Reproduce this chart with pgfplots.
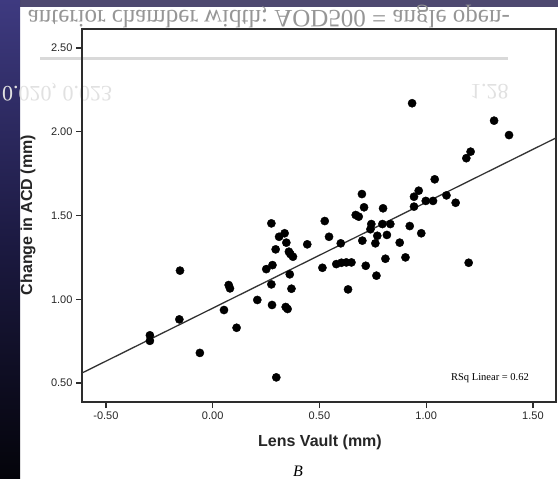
\documentclass[border=0pt]{standalone}
\usepackage{pgfplots}
\pgfplotsset{compat=1.18}
\usepackage{fontspec}
\setmainfont{Liberation Sans}
\newfontfamily\serifx{Liberation Serif}
\definecolor{stripTop}{RGB}{62,58,128}
\definecolor{stripMid}{RGB}{28,26,66}
\definecolor{stripBot}{RGB}{4,4,10}
\definecolor{band}{RGB}{48,42,88}
\definecolor{ghost}{RGB}{150,150,150}
\definecolor{ghostlight}{RGB}{225,225,225}
\definecolor{axisgray}{RGB}{45,45,45}

\pgfplotstableread{
x y
-0.294 0.785
-0.294 0.752
-0.156 0.880
-0.153 1.171
-0.060 0.680
0.053 0.936
0.075 1.085
0.081 1.065
0.112 0.830
0.209 0.996
0.251 1.180
0.275 1.089
0.275 1.453
0.278 0.966
0.280 1.204
0.295 1.298
0.298 0.534
0.311 1.373
0.337 1.394
0.342 0.954
0.345 1.338
0.351 0.942
0.357 1.284
0.361 1.149
0.364 1.270
0.369 1.063
0.376 1.254
0.443 1.328
0.514 1.188
0.525 1.467
0.545 1.373
0.579 1.210
0.600 1.334
0.603 1.218
0.626 1.220
0.634 1.059
0.650 1.220
0.670 1.503
0.684 1.493
0.699 1.628
0.701 1.350
0.709 1.549
0.717 1.200
0.739 1.418
0.743 1.449
0.762 1.334
0.767 1.141
0.771 1.379
0.795 1.449
0.798 1.543
0.809 1.242
0.816 1.384
0.832 1.449
0.876 1.338
0.903 1.250
0.923 1.437
0.934 2.170
0.943 1.553
0.943 1.612
0.965 1.648
0.977 1.394
0.998 1.587
1.032 1.587
1.040 1.716
1.095 1.620
1.138 1.576
1.188 1.842
1.199 1.218
1.208 1.881
1.318 2.066
1.388 1.980
}\pointsdata

\begin{document}
\begin{tikzpicture}[x=1pt,y=1pt]
\useasboundingbox (0,0) rectangle (558,-479);
% background
\fill[white] (0,0) rectangle (558,-479);
\shade[top color=stripTop, bottom color=stripBot, middle color=stripMid] (0,0) rectangle (20,-479);
\fill[band, opacity=0.85] (20,0) rectangle (558,-7);
\node[anchor=east, yscale=-1, text=ghost, font=\serifx\fontsize{25}{25}\selectfont, inner sep=0pt] at (510,-16) {anterior chamber width; AOD500 = angle open-};
\node[anchor=west, yscale=-1, text=ghostlight, font=\serifx\fontsize{22}{22}\selectfont, inner sep=0pt] at (2,-92) {0.020, 0.023};
\node[anchor=west, yscale=-1, text=ghostlight, font=\serifx\fontsize{22}{22}\selectfont, inner sep=0pt] at (470,-92) {1.28};
\draw[black!15, line width=3pt] (40,-58) -- (508,-58);

\begin{axis}[
  at={(82pt,-402pt)}, anchor=south west,
  scale only axis, width=474pt, height=373pt,
  xmin=-0.612, xmax=1.608, ymin=0.387, ymax=2.613,
  xtick={-0.5,0,0.5,1,1.5}, xticklabels={-0.50,0.00,0.50,1.00,1.50},
  ytick={0.5,1,1.5,2,2.5}, yticklabels={0.50,1.00,1.50,2.00,2.50},
  tick align=outside, tick pos=left, major tick length=6pt,
  every tick/.style={line width=1.2pt, color=axisgray},
  axis line style={line width=1.2pt, color=axisgray},
  tick label style={font=\fontsize{11}{12}\selectfont, text=black!85},
  clip=true,
]
\addplot[no marks, line width=1.3pt, color=black!80] coordinates {(-0.612,0.560) (1.608,1.963)};
\addplot[only marks, mark=*, mark size=4.1pt, mark options={fill=black, draw=black, line width=0.4pt}] table[x=x, y=y] {\pointsdata};
\end{axis}

\node[font=\bfseries\fontsize{16}{18}\selectfont, text=black!85] at (320,-442) {Lens Vault (mm)};
\node[rotate=90, font=\bfseries\fontsize{16}{18}\selectfont, text=black!85] at (28,-215) {Change in ACD (mm)};
\node[anchor=east, font=\serifx\fontsize{10.5}{12}\selectfont, inner sep=0pt] at (529,-378) {RSq Linear = 0.62};
\node[font=\serifx\itshape\fontsize{16}{16}\selectfont] at (298,-471) {B};
\end{tikzpicture}
\end{document}
